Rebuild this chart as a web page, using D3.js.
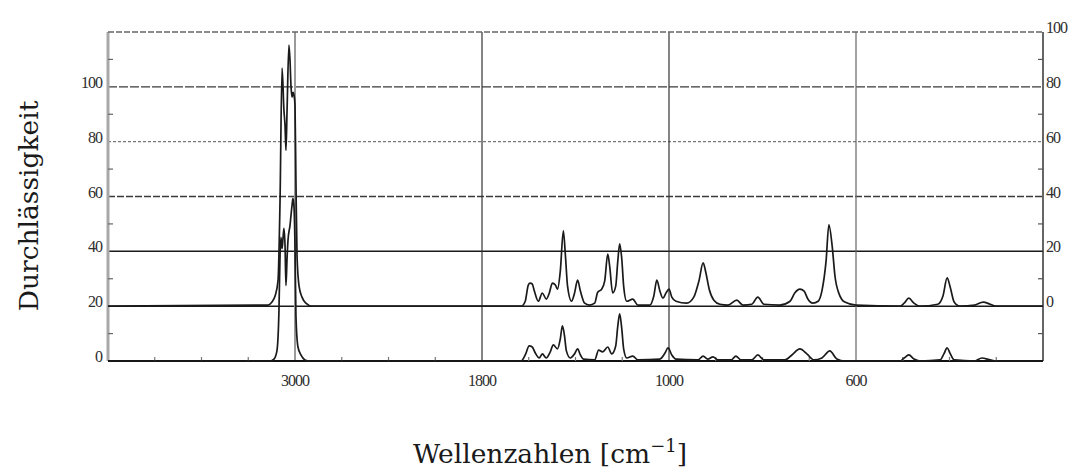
<!DOCTYPE html>
<html>
<head>
<meta charset="utf-8">
<script src="https://cdn.jsdelivr.net/npm/d3@7"></script>
<style>
body { margin: 0; background: #fff; }
.tickLabel { font-family: "Liberation Serif", serif; font-size: 16px; fill: #2e2e2e; }
.axisTitle { font-family: "DejaVu Serif", serif; font-size: 26.5px; fill: #1a1a1a; }
</style>
</head>
<body>
<div id="chart"></div>
<script>
// piecewise wavenumber axis, every segment gets the same width
const xBreaks = [4200, 3000, 1800, 1000, 600, 200];
const xTickValues = [3000, 1800, 1000, 600];
const xMinorTicks = [3900, 3600, 3300, 2700, 2400, 2100, 1600, 1400, 1200, 900, 800, 700, 500, 400, 300];
const leftTickValues = [0, 20, 40, 60, 80, 100];
const leftMinorTicks = [10, 30, 50, 70, 90, 110];
const rightTickValues = [0, 20, 40, 60, 80, 100];
const rightMinorTicks = [-10, 10, 30, 50, 70, 90];
const gridValues = [20, 40, 60, 80, 100];

// upper trace, read against the right axis (baseline 0)
const upperSpectrum = [
    [4200, 0], [3173, 0.4], [3148, 1.5], [3128, 3.7], [3109, 9.2], [3096, 38.5],
    [3083, 86.8], [3071, 71.4], [3064, 65.9], [3058, 56.8], [3051, 71.4], [3039, 95.2],
    [3032, 89.7], [3026, 80.6], [3019, 76.2], [3013, 78.0], [3006, 76.9], [3000, 73.3],
    [2994, 45.8], [2987, 18.3], [2974, 7.3], [2955, 3.3], [2930, 1.1], [2892, 0],
    [1632, 0], [1615, 1.8], [1602, 7.7], [1594, 8.4], [1585, 8.1], [1576, 5.5],
    [1559, 1.8], [1542, 4.8], [1525, 2.6], [1512, 4.8], [1499, 8.4], [1486, 7.7],
    [1477, 6.2], [1465, 12.8], [1452, 27.5], [1443, 18.3], [1434, 7.3], [1417, 1.8],
    [1404, 4.8], [1391, 9.5], [1379, 5.5], [1361, 1.1], [1340, 0.4], [1318, 1.1],
    [1305, 5.1], [1288, 6.2], [1275, 9.2], [1262, 19.0], [1254, 14.7], [1241, 4.8],
    [1228, 7.3], [1219, 16.5], [1211, 22.7], [1202, 17.2], [1194, 7.3], [1181, 1.8],
    [1155, 2.6], [1133, 0.4], [1082, 0.4], [1065, 3.7], [1052, 9.5], [1039, 5.5],
    [1026, 2.9], [1013, 4.8], [1000, 6.2], [994, 3.3], [985, 1.8], [962, 1.1],
    [947, 3.3], [936, 9.2], [927, 15.8], [921, 12.1], [914, 6.2], [904, 2.2],
    [891, 0.7], [874, 0.4], [855, 2.2], [842, 0.4], [823, 0.7], [810, 3.3],
    [797, 0.7], [763, 0.4], [741, 1.8], [731, 4.8], [720, 6.2], [711, 5.5],
    [703, 2.6], [692, 1.1], [681, 1.8], [673, 5.5], [664, 16.5], [658, 29.7],
    [651, 22.0], [645, 11.0], [636, 4.4], [624, 1.5], [600, 0.4], [506, 0],
    [497, 1.1], [487, 2.9], [476, 1.1], [463, 0], [425, 0.7], [414, 3.7],
    [405, 10.3], [399, 7.3], [390, 1.5], [378, 0], [346, 0.4], [328, 1.5],
    [313, 0.7], [301, 0], [200, 0]
];

// lower trace, read against the left axis (baseline 0)
const lowerSpectrum = [
    [4200, 0], [3160, 0], [3135, 0.7], [3116, 3.7], [3103, 18.3], [3096, 38.5],
    [3090, 45.1], [3083, 41.0], [3077, 44.7], [3071, 48.4], [3064, 42.1], [3058, 27.5],
    [3051, 37.4], [3045, 44.0], [3032, 49.5], [3019, 56.8], [3013, 59.3], [3006, 55.7],
    [3000, 42.1], [2994, 16.5], [2981, 5.1], [2962, 2.2], [2936, 0.4], [2904, 0],
    [1632, 0], [1615, 2.2], [1598, 5.5], [1585, 5.1], [1572, 2.9], [1555, 1.1],
    [1542, 2.6], [1525, 1.1], [1508, 3.3], [1495, 5.9], [1477, 4.4], [1465, 8.1],
    [1456, 12.8], [1447, 9.2], [1439, 3.7], [1422, 1.1], [1404, 2.6], [1391, 4.4],
    [1379, 2.2], [1366, 0.7], [1318, 0.4], [1301, 4.0], [1284, 3.3], [1262, 5.1],
    [1245, 2.6], [1228, 5.5], [1219, 12.8], [1211, 17.2], [1202, 11.7], [1194, 4.4],
    [1181, 1.1], [1155, 1.8], [1133, 0.4], [1039, 0.7], [1017, 2.9], [1004, 4.8],
    [994, 2.2], [985, 0.7], [938, 0.4], [927, 1.8], [917, 0.7], [906, 1.5],
    [895, 0.4], [867, 0.4], [857, 1.8], [846, 0.4], [823, 0.4], [810, 2.2],
    [797, 0.4], [752, 0.4], [737, 2.2], [720, 4.4], [705, 2.6], [690, 0.4],
    [673, 1.1], [656, 3.7], [641, 0.7], [624, 0], [506, 0], [497, 1.1],
    [487, 2.2], [476, 0.7], [463, 0], [420, 0.4], [412, 2.6], [405, 4.8],
    [399, 2.9], [390, 0.4], [346, 0], [331, 1.1], [313, 0.4], [301, 0], [200, 0]
];

const margin = { top: 32, right: 35, bottom: 107, left: 108 };
const size = { width: 1078, height: 468 };
const width = size.width - margin.left - margin.right;
const height = size.height - margin.top - margin.bottom;

const svg = d3.select("#chart").append("svg")
    .attr("width", size.width)
    .attr("height", size.height)
    .append("g")
    .attr("transform", "translate(" + margin.left + "," + margin.top + ")");

const xScale = d3.scaleLinear()
    .domain(xBreaks)
    .range(xBreaks.map((d, i) => i * width / (xBreaks.length - 1)));
const yLeft = d3.scaleLinear().domain([0, 120]).range([height, 0]);
const yRight = d3.scaleLinear().domain([-20, 100]).range([height, 0]);

// horizontal grid
const gridStyle = {
    20: { color: "#1a1a1a", dash: null, w: 1.5 },
    40: { color: "#1a1a1a", dash: null, w: 1.5 },
    60: { color: "#3a3a3a", dash: "7,2", w: 1.3 },
    80: { color: "#777", dash: "3,2", w: 1.1 },
    100: { color: "#3a3a3a", dash: "9,2", w: 1.4 }
};
svg.append("g").attr("class", "gridG")
    .selectAll("line")
    .data(gridValues)
    .join("line")
    .attr("x1", 0).attr("x2", width)
    .attr("y1", d => yLeft(d)).attr("y2", d => yLeft(d))
    .attr("stroke", d => gridStyle[d].color)
    .attr("stroke-width", d => gridStyle[d].w)
    .attr("stroke-dasharray", d => gridStyle[d].dash);

// vertical grid
const vStyle = { 3000: "#9a9a9a", 1800: "#333", 1000: "#333", 600: "#666" };
svg.append("g")
    .selectAll("line")
    .data(xTickValues)
    .join("line")
    .attr("x1", d => xScale(d)).attr("x2", d => xScale(d))
    .attr("y1", 0).attr("y2", height)
    .attr("stroke", d => vStyle[d])
    .attr("stroke-width", d => d === 3000 ? 2 : 1.2);

// frame
svg.append("line").attr("x1", 0).attr("x2", 0).attr("y1", 0).attr("y2", height)
    .attr("stroke", "#a8a8a8").attr("stroke-width", 3);
svg.append("line").attr("x1", 0).attr("x2", width).attr("y1", 0).attr("y2", 0)
    .attr("stroke", "#666").attr("stroke-width", 1.6).attr("stroke-dasharray", "6,2");
svg.append("line").attr("x1", width).attr("x2", width).attr("y1", 0).attr("y2", height)
    .attr("stroke", "#333").attr("stroke-width", 1.5);
svg.append("line").attr("x1", 0).attr("x2", width).attr("y1", height).attr("y2", height)
    .attr("stroke", "#111").attr("stroke-width", 2.2);

// inner minor ticks
svg.append("g").selectAll("line").data(leftMinorTicks).join("line")
    .attr("x1", 0).attr("x2", 5)
    .attr("y1", d => yLeft(d)).attr("y2", d => yLeft(d))
    .attr("stroke", "#666").attr("stroke-width", 1.2);
svg.append("g").selectAll("line").data(rightMinorTicks).join("line")
    .attr("x1", width - 5).attr("x2", width)
    .attr("y1", d => yRight(d)).attr("y2", d => yRight(d))
    .attr("stroke", "#555").attr("stroke-width", 1.2);
svg.append("g").selectAll("line").data(xMinorTicks).join("line")
    .attr("x1", d => xScale(d)).attr("x2", d => xScale(d))
    .attr("y1", height - 4).attr("y2", height)
    .attr("stroke", "#777").attr("stroke-width", 1.2);

// tick labels
svg.append("g").selectAll("text").data(leftTickValues).join("text")
    .attr("class", "tickLabel")
    .attr("x", -6)
    .attr("y", d => yLeft(d) + 1)
    .attr("text-anchor", "end")
    .attr("letter-spacing", -1)
    .text(d => d);
svg.append("g").selectAll("text").data(rightTickValues).join("text")
    .attr("class", "tickLabel")
    .attr("x", width + 3)
    .attr("y", d => yRight(d) + 1)
    .attr("text-anchor", "start")
    .attr("letter-spacing", -1)
    .text(d => d);
svg.append("g").selectAll("text").data(xTickValues).join("text")
    .attr("class", "tickLabel")
    .attr("x", d => xScale(d))
    .attr("y", height + 25)
    .attr("text-anchor", "middle")
    .attr("letter-spacing", -1)
    .text(d => d);

// spectra
const line = (yScale) => d3.line()
    .x(d => xScale(d[0]))
    .y(d => yScale(d[1]))
    .curve(d3.curveMonotoneX);

svg.append("path")
    .datum(lowerSpectrum)
    .attr("fill", "none")
    .attr("stroke", "#1a1a1a")
    .attr("stroke-width", 1.7)
    .attr("stroke-linejoin", "round")
    .attr("d", line(yLeft));

svg.append("path")
    .datum(upperSpectrum)
    .attr("fill", "none")
    .attr("stroke", "#1a1a1a")
    .attr("stroke-width", 1.7)
    .attr("stroke-linejoin", "round")
    .attr("d", line(yRight));

// axis titles
svg.append("text")
    .attr("class", "axisTitle")
    .attr("transform", "rotate(-90)")
    .attr("x", -(206 - margin.top))
    .attr("y", -margin.left + 38)
    .attr("text-anchor", "middle")
    .text("Durchlässigkeit");

const xTitle = svg.append("text")
    .attr("class", "axisTitle")
    .attr("x", 550 - margin.left)
    .attr("y", 463 - margin.top)
    .attr("text-anchor", "middle");
xTitle.append("tspan").text("Wellenzahlen [cm");
xTitle.append("tspan").attr("dy", -11).attr("font-size", 18).text("−1");
xTitle.append("tspan").attr("dy", 11).text("]");
</script>
</body>
</html>
